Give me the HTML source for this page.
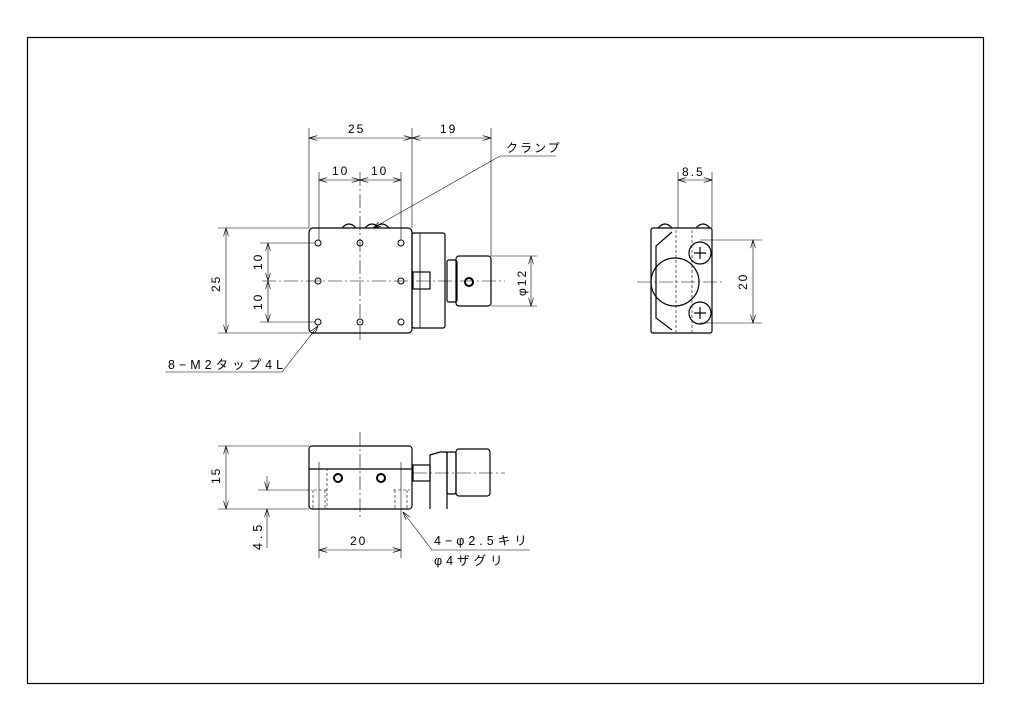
<!DOCTYPE html>
<html><head><meta charset="utf-8"><style>
html,body{margin:0;padding:0;background:#fff;}
svg{display:block;}
text{font-family:"Liberation Sans","Noto Sans CJK JP",sans-serif;font-size:12px;fill:#000;letter-spacing:2px;}
.w{letter-spacing:4px;font-size:12.5px;}
</style></head><body>
<svg width="1024" height="724" viewBox="0 0 1024 724" xmlns="http://www.w3.org/2000/svg">
<defs>
<marker id="a" viewBox="0 0 10 6" refX="10" refY="3" markerWidth="9" markerHeight="5" orient="auto-start-reverse" markerUnits="userSpaceOnUse"><path d="M0,0 L10,3 L0,6" fill="none" stroke="#000" stroke-width="0.8"/></marker>
</defs>
<rect x="27.5" y="37.5" width="956" height="646" fill="none" stroke="#000" stroke-width="1.2"/>
<g fill="none" stroke="#000" stroke-width="0.6">
<line x1="309" y1="128" x2="309" y2="228"/><line x1="412" y1="128" x2="412" y2="228"/><line x1="491" y1="128" x2="491" y2="256"/>
<line x1="309" y1="138" x2="412" y2="138" marker-start="url(#a)" marker-end="url(#a)"/>
<line x1="412" y1="138" x2="491" y2="138" marker-start="url(#a)" marker-end="url(#a)"/>
<line x1="319" y1="172" x2="319" y2="240"/><line x1="401" y1="172" x2="401" y2="240"/>
<line x1="319" y1="180" x2="360" y2="180" marker-start="url(#a)" marker-end="url(#a)"/>
<line x1="360" y1="180" x2="401" y2="180" marker-start="url(#a)" marker-end="url(#a)"/>
<line x1="218" y1="228" x2="309" y2="228"/><line x1="218" y1="333" x2="309" y2="333"/>
<line x1="226" y1="228" x2="226" y2="333" marker-start="url(#a)" marker-end="url(#a)"/>
<line x1="260" y1="243" x2="315" y2="243"/><line x1="260" y1="322" x2="315" y2="322"/>
<line x1="268" y1="243" x2="268" y2="281" marker-start="url(#a)" marker-end="url(#a)"/>
<line x1="268" y1="281" x2="268" y2="322" marker-start="url(#a)" marker-end="url(#a)"/>
<line x1="491" y1="256" x2="537" y2="256"/><line x1="491" y1="306" x2="537" y2="306"/>
<line x1="531" y1="256" x2="531" y2="306" marker-start="url(#a)" marker-end="url(#a)"/>
<polyline points="373,228 500,156 556,156" marker-start="url(#a)"/>
<polyline points="318,326 282,372 165,372" marker-start="url(#a)"/>
<line x1="262" y1="281" x2="505" y2="281" stroke-dasharray="14,3,2,3"/>
<line x1="360" y1="172" x2="360" y2="342" stroke-dasharray="14,3,2,3"/>
</g>
<g fill="none" stroke="#000" stroke-width="1.2">
<rect x="309" y="228" width="103" height="105" rx="4"/>
<rect x="412" y="233" width="33" height="95" rx="2"/>
<line x1="420" y1="233" x2="420" y2="328" stroke-width="0.8"/>
<rect x="413" y="272" width="17" height="17"/>
<rect x="447" y="260" width="10" height="42" rx="2"/>
<rect x="456" y="256" width="35" height="50" rx="3"/>
<path d="M342,228 q7,-8 14,0 M365,228 q7,-8 14,0 M375,228 q7,-8 14,0"/>
<circle cx="469" cy="282" r="4" stroke-width="2"/>
</g>
<g fill="none" stroke="#000" stroke-width="1">
<circle cx="318" cy="243" r="3"/><circle cx="360" cy="243" r="3"/><circle cx="401" cy="243" r="3"/>
<circle cx="318" cy="281" r="3"/><circle cx="401" cy="281" r="3"/>
<circle cx="318" cy="322" r="3"/><circle cx="360" cy="322" r="3"/><circle cx="401" cy="322" r="3"/>
</g>
<text x="348" y="133">25</text><text x="440" y="133">19</text>
<text x="332" y="175">10</text><text x="371" y="175">10</text>
<text x="506" y="152">クランプ</text>
<text class="w" x="168" y="369">8−M2タップ4L</text>
<text transform="translate(220,292) rotate(-90)">25</text>
<text transform="translate(262,270) rotate(-90)">10</text>
<text transform="translate(262,310) rotate(-90)">10</text>
<text transform="translate(526,296) rotate(-90)">φ12</text>
<g fill="none" stroke="#000" stroke-width="0.6">
<line x1="678" y1="172" x2="678" y2="228"/><line x1="712" y1="172" x2="712" y2="228"/>
<line x1="678" y1="180" x2="712" y2="180" marker-start="url(#a)" marker-end="url(#a)"/>
<line x1="700" y1="240" x2="762" y2="240"/><line x1="700" y1="323" x2="762" y2="323"/>
<line x1="753" y1="240" x2="753" y2="323" marker-start="url(#a)" marker-end="url(#a)"/>
<line x1="637" y1="282" x2="725" y2="282" stroke-dasharray="14,3,2,3"/>
<line x1="676" y1="230" x2="676" y2="333" stroke-dasharray="3,2"/>
<line x1="692" y1="230" x2="692" y2="333" stroke-dasharray="3,2"/>
</g>
<g fill="none" stroke="#000" stroke-width="1.2">
<rect x="651" y="228" width="61" height="105" rx="2"/>
<polyline points="672,232 656,246 656,318 672,330"/>
<circle cx="675" cy="282" r="24"/>
<circle cx="700" cy="253" r="11"/><circle cx="700" cy="313" r="11"/>
<path d="M700,247v12M694,253h12M700,307v12M694,313h12"/>
<path d="M658,228 q7,-8 14,0 M696,228 q7,-8 14,0"/>
</g>
<text x="682" y="176">8.5</text>
<text transform="translate(747,290) rotate(-90)">20</text>
<g fill="none" stroke="#000" stroke-width="0.6">
<line x1="218" y1="446" x2="309" y2="446"/><line x1="218" y1="509" x2="309" y2="509"/>
<line x1="226" y1="446" x2="226" y2="509" marker-start="url(#a)" marker-end="url(#a)"/>
<line x1="258" y1="490" x2="309" y2="490"/>
<line x1="267" y1="476" x2="267" y2="490" marker-end="url(#a)"/>
<line x1="267" y1="548" x2="267" y2="509" marker-end="url(#a)"/>
<line x1="319" y1="462" x2="319" y2="558"/><line x1="401" y1="462" x2="401" y2="558"/>
<line x1="319" y1="550" x2="401" y2="550" marker-start="url(#a)" marker-end="url(#a)"/>
<polyline points="403,512 432,550 530,550" marker-start="url(#a)"/>
<line x1="360" y1="432" x2="360" y2="520" stroke-dasharray="14,3,2,3"/>
<line x1="413" y1="473" x2="505" y2="473" stroke-dasharray="14,3,2,3"/>
<path d="M311,469h16v40M393,469h17M327,490h-16M393,490h17M313,490v19M325,490v19M395,490v19M407,490v19" stroke-dasharray="3,2"/>
</g>
<g fill="none" stroke="#000" stroke-width="1.2">
<rect x="309" y="446" width="103" height="63" rx="3"/>
<line x1="309" y1="469" x2="412" y2="469"/>
<rect x="413" y="465" width="17" height="16"/>
<polyline points="430,509 430,455 440,452 447,452 447,509"/>
<rect x="447" y="452" width="9" height="42" rx="2"/>
<rect x="456" y="449" width="34" height="47" rx="3"/>
<circle cx="338" cy="478" r="4" stroke-width="2"/><circle cx="381" cy="478" r="4" stroke-width="2"/>
</g>
<text transform="translate(220,484) rotate(-90)">15</text>
<text class="w" transform="translate(262,550) rotate(-90)">4.5</text>
<text x="350" y="545">20</text>
<text class="w" x="434" y="545">4−φ2.5キリ</text>
<text class="w" x="434" y="565">φ4ザグリ</text>
</svg>
</body></html>
